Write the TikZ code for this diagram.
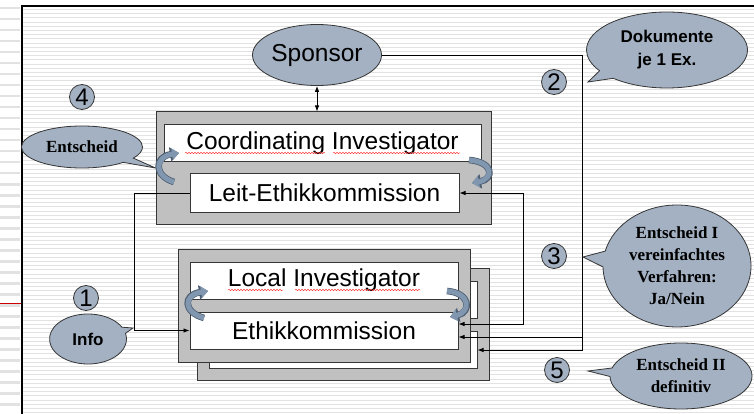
\documentclass[tikz,border=0pt]{standalone}
\usepackage{fontspec}
\setmainfont{Liberation Sans}
\newfontfamily\timesfont{Liberation Serif}
\usetikzlibrary{shapes.geometric,shapes.callouts,arrows.meta,decorations.pathmorphing}
\definecolor{slate}{HTML}{A3B1C2}
\definecolor{swirlblue}{HTML}{8197AF}
\definecolor{swirledge}{HTML}{4E5F72}
\definecolor{boxgray}{HTML}{C0C0C0}
\definecolor{edgegray}{HTML}{363636}
\definecolor{stripegray}{HTML}{E2E2E2}

\begin{document}
\begin{tikzpicture}[x=1pt, y=-1pt, >={Latex[length=6pt,width=4.5pt]},
	graybox/.style={rectangle, fill=boxgray, draw=edgegray, line width=1pt, inner sep=0pt},
	whitebox/.style={rectangle, fill=white, draw=edgegray, line width=1pt, inner sep=0pt, font=\fontsize{24.5}{28}\selectfont},
	bubble/.style={ellipse callout, fill=slate, draw=edgegray, line width=0.8pt, inner sep=0pt, align=center},
	numdot/.style={circle, fill=slate, draw=edgegray, line width=0.8pt, inner sep=0pt, minimum size=25pt, font=\fontsize{24}{24}\selectfont},
	link/.style={draw=black, line width=0.8pt},
	swirlrim/.style={draw=swirledge, line width=6.6pt, -{Triangle[length=9pt,width=14pt]}},
	swirl/.style={draw=swirlblue, line width=5pt, -{Triangle[length=7pt,width=11.5pt]}},
	spell/.style={draw=red!75, line width=0.5pt, decorate, decoration={snake, amplitude=0.7pt, segment length=3pt}}]
	\useasboundingbox (0,0) rectangle (754,414);
	\fill[white] (0,0) rectangle (754,414);
	% background stripes
	\foreach \y in {7,18,...,410} \fill[stripegray] (0,\y) rectangle (20,\y+2.5);
	\foreach \y in {9.5,13.7,...,414} \draw[stripegray, line width=0.9pt] (23,\y) -- (754,\y);
	\draw[red!80!black, line width=1pt] (0,303) -- (22,303);
	\draw[black, line width=2pt] (22,414) -- (22,6) -- (754,6);

	% sponsor
	\node[ellipse, fill=slate, draw=edgegray, line width=0.8pt, minimum width=109pt, minimum height=61pt, inner sep=0pt, font=\fontsize{24.5}{28}\selectfont](sponsor) at (317,55){Sponsor};

	% coordinating group
	\node[graybox, minimum width=335pt, minimum height=112pt](cigray) at (323.5,168){};
	\node[whitebox, minimum width=317pt, minimum height=37pt](coord) at (322.5,143.5){Coordinating Investigator};
	\node[whitebox, minimum width=269pt, minimum height=38pt](leit) at (324.5,193){Leit-Ethikkommission};

	% local group, back copy
	\node[graybox, minimum width=292pt, minimum height=112pt](backgray) at (343,324){};
	\node[whitebox, minimum width=268pt, minimum height=37pt](backlocal) at (343,299.5){};
	\node[whitebox, minimum width=268pt, minimum height=37pt](backethik) at (343,349.5){};
	% local group, front
	\node[graybox, minimum width=292pt, minimum height=113pt](localgray) at (324,305.5){};
	\node[whitebox, minimum width=268pt, minimum height=37pt](local) at (324,280.5){Local Investigator};
	\node[whitebox, minimum width=268pt, minimum height=37pt](ethik) at (324,330.5){Ethikkommission};

	% numbers
	\node[numdot](n1) at (86,298){1};
	\node[numdot](n2) at (554,82){2};
	\node[numdot](n3) at (554,256){3};
	\node[numdot](n4) at (82,97){4};
	\node[numdot](n5) at (557,370){5};

	% connectors
	\coordinate (bustwo) at (582,337);
	\coordinate (busthree) at (582,350);
	\draw[link, <->] (sponsor.south) -- (sponsor.south |- cigray.north);
	\draw[link, ->] (sponsor.east) -| (busthree) -- (busthree -| backethik.east);
	\draw[link, ->] (bustwo) -- (bustwo -| ethik.east);
	\draw[link, <->] (leit.east) -- ++(64,0) |- ([yshift=6.5pt]ethik.east);
	\draw[link, ->] (leit.west) -- ++(-55,0) |- (ethik.west);

	% callouts
	\node[bubble, minimum width=121pt, minimum height=42pt, callout absolute pointer=(cigray.west), font=\timesfont\bfseries\fontsize{17}{22}\selectfont](entscheid) at (82,147){Entscheid};
	\node[bubble, minimum width=161pt, minimum height=76pt, callout absolute pointer={(588,82)}, font=\bfseries\fontsize{17}{23}\selectfont](doku) at (667,50){Dokumente\\je 1 Ex.};
	\node[bubble, minimum width=148pt, minimum height=122pt, callout absolute pointer={(583,257)}, font=\timesfont\bfseries\fontsize{17}{22}\selectfont](entone) at (677,266){Entscheid I\\vereinfachtes\\Verfahren:\\Ja/Nein};
	\node[bubble, minimum width=142pt, minimum height=66pt, callout absolute pointer={(588,371)}, font=\timesfont\bfseries\fontsize{17}{22}\selectfont](enttwo) at (681,376){Entscheid II\\definitiv};
	\node[bubble, minimum width=77pt, minimum height=50pt, callout absolute pointer={(133,328)}, font=\bfseries\fontsize{17}{22}\selectfont](info) at (88,339){Info};

	% swirl arrows
	\draw[swirlrim] (174,182) .. controls (154,176) and (154,157) .. (179,153);
	\draw[swirl] (174,182) .. controls (154,176) and (154,157) .. (179,153);
	\draw[swirlrim] (469,160) .. controls (494,162) and (494,179) .. (472,183);
	\draw[swirl] (469,160) .. controls (494,162) and (494,179) .. (472,183);
	\draw[swirlrim] (204,318) .. controls (183,312) and (183,295) .. (208,291);
	\draw[swirl] (204,318) .. controls (183,312) and (183,295) .. (208,291);
	\draw[swirlrim] (447,291) .. controls (471,293) and (471,312) .. (450,317);
	\draw[swirl] (447,291) .. controls (471,293) and (471,312) .. (450,317);

	% spell marks
	\draw[spell] (185,153) -- (325,153);
	\draw[spell] (333,153) -- (460,153);
	\draw[spell] (228,290) -- (283,290);
	\draw[spell] (295,290) -- (420,290);
\end{tikzpicture}
\end{document}
